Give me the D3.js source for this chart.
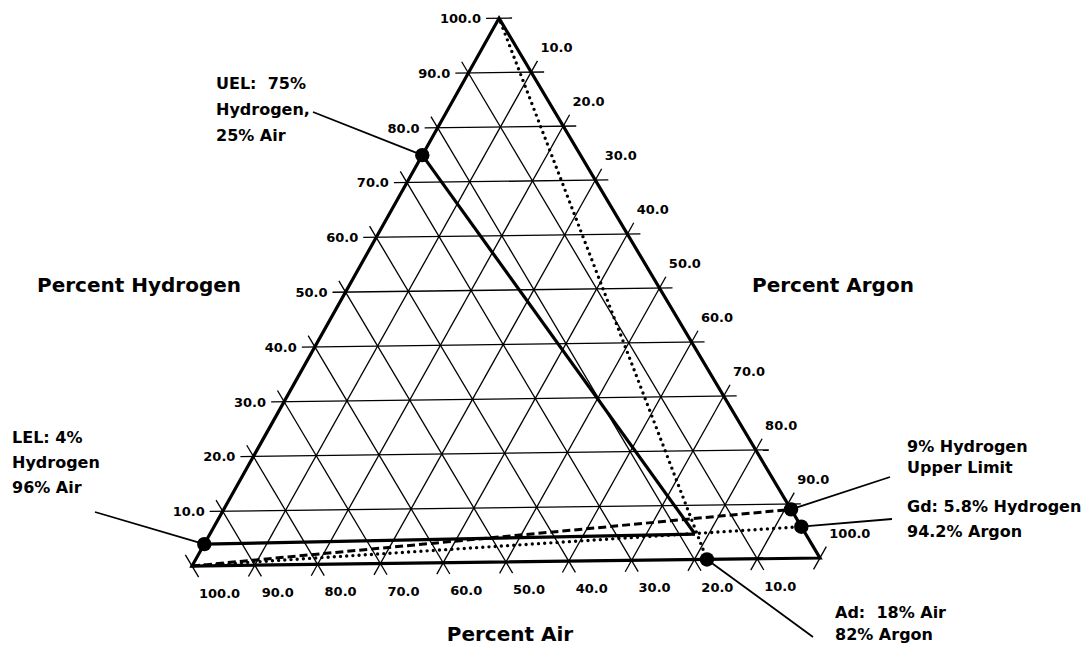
<!DOCTYPE html>
<html>
<head>
<meta charset="utf-8">
<script src="https://cdn.jsdelivr.net/npm/d3@7"></script>
<style>
  body { margin: 0; background: #fff; }
  svg { display: block; background: #fff; }
  text { font-family: "DejaVu Sans", "Liberation Sans", sans-serif; font-weight: bold; fill: #000; }
</style>
</head>
<body>
<svg id="chart" width="1088" height="649"></svg>
<script>
// ---------------- DATA ----------------
const gridValues = [10, 20, 30, 40, 50, 60, 70, 80, 90];
const tickValues = [10, 20, 30, 40, 50, 60, 70, 80, 90, 100];
const tickLabels = ["10.0", "20.0", "30.0", "40.0", "50.0", "60.0", "70.0", "80.0", "90.0", "100.0"];
const axisTitles = ["Percent Hydrogen", "Percent Argon", "Percent Air"];

// composition points (percent)
const pointNames = ["UEL", "LEL", "Nose", "Ad", "Gd", "H9", "AirCorner", "H2Corner"];
const pointH     = [75,    4,     4.7,    0,    5.8,  9,    0,           100];
const pointAir   = [25,    96,    17.5,   18,   0,    0,    100,         0];
const pointAr    = [0,     0,     77.8,   82,   94.2, 91,   0,           0];

// lines between named points
const solidLines  = [["UEL", "Nose"], ["LEL", "Nose"]];
const dashedLines = [["AirCorner", "H9"]];
const dottedLines = [["AirCorner", "Gd"], ["H2Corner", "Ad"]];
const markerPoints = ["UEL", "LEL", "Ad", "Gd", "H9"];

// callout annotations
const calloutPoints = ["UEL", "LEL", "H9", "Gd", "Ad"];
const calloutTexts = [
  ["UEL:  75%", "Hydrogen,", "25% Air"],
  ["LEL: 4%", "Hydrogen", "96% Air"],
  ["9% Hydrogen", "Upper Limit"],
  ["Gd: 5.8% Hydrogen", "94.2% Argon"],
  ["Ad:  18% Air", "82% Argon"]
];

// ---------------- LAYOUT ----------------
const svg = d3.select("#chart");
const SIDE = 628;
const TILT = Math.atan2(8, 628);
const ORIGIN = [192, 566];
const EXT = 13;

const uScale = d3.scaleLinear().domain([0, 100]).range([0, SIDE]);
const wScale = d3.scaleLinear().domain([0, 100]).range([0, SIDE * Math.sqrt(3) / 2]);

function local(h, ar) { return [uScale(ar + h / 2), wScale(h)]; }
function toScreen(p) {
  const c = Math.cos(TILT), s = Math.sin(TILT);
  return [ORIGIN[0] + p[0] * c - p[1] * s, ORIGIN[1] - p[0] * s - p[1] * c];
}
function P(h, air, ar) { return toScreen(local(h, ar)); }
function byName(n) {
  const i = pointNames.indexOf(n);
  return P(pointH[i], pointAir[i], pointAr[i]);
}
function extendSeg(a, b, dir) {
  let d;
  const dx = b[0] - a[0], dy = b[1] - a[1], L = Math.hypot(dx, dy);
  d = L > 1e-6 ? [dx / L, dy / L] : dir;
  return [[a[0] - EXT * d[0], a[1] - EXT * d[1]], [b[0] + EXT * d[0], b[1] + EXT * d[1]]];
}

const lineGen = d3.line();
const gGrid = svg.append("g");
const gLabels = svg.append("g").style("font-size", "13px");

// family directions in local frame
const dirH = [1, 0], dirAir = [0.5, -Math.sqrt(3) / 2], dirAr = [0.5, Math.sqrt(3) / 2];

function drawGrid(a, b, dir) {
  const seg = extendSeg(a, b, dir);
  gGrid.append("path")
    .attr("d", lineGen(seg.map(toScreen)))
    .attr("fill", "none").attr("stroke", "#000").attr("stroke-width", 1.3);
  return seg.map(toScreen);
}

tickValues.forEach((v, i) => {
  // Hydrogen: horizontal lines
  const hs = drawGrid(local(v, 0), local(v, 100 - v), dirH);
  gLabels.append("text").attr("x", hs[0][0] - 5).attr("y", hs[0][1] + 4.7)
    .attr("text-anchor", "end").text(tickLabels[i]);
  // Argon: "/" lines from base to right edge
  const as = drawGrid(local(0, v), local(100 - v, v), dirAr);
  gLabels.append("text").attr("x", as[1][0] + 3).attr("y", as[1][1] - 8.5)
    .attr("text-anchor", "start").text(tickLabels[i]);
  // Air: "\" lines from left edge to base
  drawGrid(local(100 - v, 0), local(0, 100 - v), dirAir);
  const q = P(0, v, 100 - v);
  gLabels.append("text").attr("x", q[0] + 7).attr("y", q[1] + 32)
    .attr("text-anchor", "start").text(tickLabels[i]);
});

// triangle frame
svg.append("path")
  .attr("d", lineGen([P(100, 0, 0), P(0, 100, 0), P(0, 0, 100)]) + "Z")
  .attr("fill", "none").attr("stroke", "#000").attr("stroke-width", 3.2)
  .attr("stroke-linejoin", "miter");

// data lines
const gData = svg.append("g").attr("fill", "none").attr("stroke", "#000");
solidLines.forEach(([a, b]) => {
  gData.append("path").attr("d", lineGen([byName(a), byName(b)])).attr("stroke-width", 3.2);
});
dashedLines.forEach(([a, b]) => {
  gData.append("path").attr("d", lineGen([byName(a), byName(b)]))
    .attr("stroke-width", 3).attr("stroke-dasharray", "8 4");
});
dottedLines.forEach(([a, b]) => {
  const p0 = byName(a), p1 = byName(b);
  const start = a === "H2Corner" ? [p0[0] + (p1[0] - p0[0]) * 0.008, p0[1] + (p1[1] - p0[1]) * 0.008] : p0;
  gData.append("path").attr("d", lineGen([start, p1]))
    .attr("stroke-width", 3.4).attr("stroke-linecap", "round").attr("stroke-dasharray", "0 6.2");
});

// callouts
const calloutLayout = {
  UEL: { x: 216, y0: 89, dy: 26, lead: [313, 112] },
  LEL: { x: 12, y0: 443, dy: 25, lead: [95, 512] },
  H9:  { x: 907, y0: 452, dy: 21, lead: [890, 477] },
  Gd:  { x: 907, y0: 512, dy: 25, lead: [892, 519] },
  Ad:  { x: 835, y0: 618, dy: 22, lead: [813, 637] }
};
const gCall = svg.append("g");
calloutPoints.forEach((name, i) => {
  const L = calloutLayout[name];
  const p = byName(name);
  gCall.append("line").attr("x1", L.lead[0]).attr("y1", L.lead[1])
    .attr("x2", p[0]).attr("y2", p[1]).attr("stroke", "#000").attr("stroke-width", 1.8);
  const t = gCall.append("text").attr("x", L.x).attr("y", L.y0).style("font-size", "16px");
  calloutTexts[i].forEach((s, j) => {
    t.append("tspan").attr("x", L.x).attr("y", L.y0 + j * L.dy).attr("xml:space", "preserve").text(s);
  });
});

// markers
svg.append("g").selectAll("circle").data(markerPoints).join("circle")
  .attr("cx", d => byName(d)[0]).attr("cy", d => byName(d)[1])
  .attr("r", 7.2).attr("fill", "#000");

// axis titles
const gTitles = svg.append("g").style("font-size", "20px");
gTitles.append("text").attr("x", 37).attr("y", 292).text(axisTitles[0]);
gTitles.append("text").attr("x", 752).attr("y", 292).text(axisTitles[1]);
gTitles.append("text").attr("x", 510).attr("y", 641).attr("text-anchor", "middle").text(axisTitles[2]);
</script>
</body>
</html>
